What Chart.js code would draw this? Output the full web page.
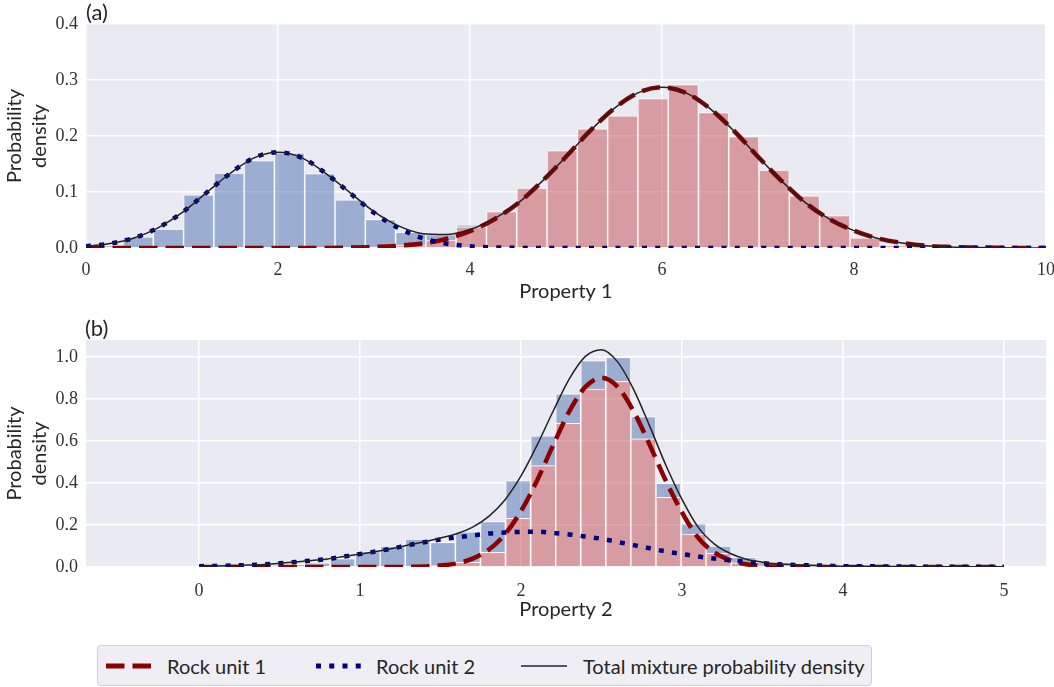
<!DOCTYPE html>
<html>
<head>
<meta charset="utf-8">
<script src="https://cdn.jsdelivr.net/npm/chart.js@4.4.1/dist/chart.umd.min.js"></script>
<style>
  body { margin: 0; background: #fff; width: 1054px; height: 687px; overflow: hidden; position: relative;
         font-family: Lato, "Open Sans", sans-serif; color: #262626; }
  canvas { position: absolute; left: 0; }
  #chartA { top: 0; }
  #chartB { top: 310px; }
  .panel { position: absolute; font-size: 22px; line-height: 1; }
  #legend { position: absolute; left: 97px; top: 645px; width: 775px; height: 41px; box-sizing: border-box;
            background: #eeeef4; border: 1px solid #cfcfd6; border-radius: 4px; }
  #legend span { position: absolute; top: 50%; transform: translateY(-50%); font-size: 20px; white-space: nowrap; }
  #legend svg { position: absolute; top: 15px; }
</style>
</head>
<body>
<canvas id="chartA" width="1054" height="310"></canvas>
<canvas id="chartB" width="1054" height="330"></canvas>
<div class="panel" style="left:86px; top:1px;">(a)</div>
<div class="panel" style="left:85px; top:317px;">(b)</div>
<div id="legend">
  <svg style="left:8px" width="45" height="10"><line x1="0" y1="5" x2="45" y2="5" stroke="#8b0000" stroke-width="5" stroke-dasharray="18.5 8"/></svg>
  <span style="left:69px">Rock unit 1</span>
  <svg style="left:218px" width="45" height="10"><line x1="0" y1="5" x2="45" y2="5" stroke="#000080" stroke-width="5" stroke-dasharray="5 8.25"/></svg>
  <span style="left:278px">Rock unit 2</span>
  <svg style="left:423px" width="46" height="10"><line x1="0" y1="5" x2="46" y2="5" stroke="#222" stroke-width="1.5"/></svg>
  <span style="left:485px">Total mixture probability density</span>
</div>
<script>
// ---- Panel (a): Property 1 ----
// stacked histogram, rock unit 1 at the bottom, rock unit 2 on top
const binCentres1 = [0.228, 0.543, 0.859, 1.174, 1.490, 1.805, 2.121, 2.436, 2.752, 3.067,
                     3.383, 3.698, 4.014, 4.329, 4.645, 4.960, 5.276, 5.591, 5.907, 6.222,
                     6.538, 6.853, 7.169, 7.484, 7.800, 8.115, 8.431, 8.746, 9.062, 9.377];
const histUnit1_p1 = [0, 0, 0, 0, 0, 0, 0, 0, 0, 0.002,
                      0.005, 0.014, 0.038, 0.065, 0.107, 0.174, 0.213, 0.236, 0.267, 0.292,
                      0.242, 0.199, 0.139, 0.093, 0.058, 0.018, 0.004, 0.003, 0.001, 0.001];
const histUnit2_p1 = [0.004, 0.020, 0.034, 0.095, 0.134, 0.156, 0.170, 0.133, 0.086, 0.049,
                      0.023, 0.010, 0.003, 0, 0, 0, 0, 0, 0, 0,
                      0, 0, 0, 0, 0, 0, 0, 0, 0, 0];

const curveX1 = [0, 0.25, 0.5, 0.75, 1, 1.25, 1.5, 1.75, 2, 2.25,
                 2.5, 2.75, 3, 3.25, 3.5, 3.75, 4, 4.25, 4.5, 4.75,
                 5, 5.25, 5.5, 5.75, 6, 6.25, 6.5, 6.75, 7, 7.25,
                 7.5, 7.75, 8, 8.25, 8.5, 8.75, 9, 9.25, 9.5, 9.75, 10];
const densUnit1_p1 = [0, 0, 0, 0, 0, 0, 0, 0, 0, 0,
                      0.0001, 0.0007, 0.0018, 0.004, 0.008, 0.016, 0.030, 0.051, 0.080, 0.119,
                      0.163, 0.209, 0.249, 0.277, 0.287, 0.277, 0.249, 0.209, 0.163, 0.119,
                      0.080, 0.051, 0.031, 0.017, 0.009, 0.004, 0.002, 0.001, 0.0004, 0.0001, 0];
const densUnit2_p1 = [0.003, 0.008, 0.018, 0.036, 0.063, 0.098, 0.133, 0.161, 0.171, 0.161,
                      0.133, 0.098, 0.063, 0.036, 0.018, 0.008, 0.003, 0.001, 0.0003, 0,
                      0, 0, 0, 0, 0, 0, 0, 0, 0, 0,
                      0, 0, 0, 0, 0, 0, 0, 0, 0, 0, 0];
const densTotal_p1 = [0.003, 0.008, 0.018, 0.036, 0.063, 0.098, 0.133, 0.161, 0.171, 0.161,
                      0.133, 0.099, 0.065, 0.040, 0.026, 0.024, 0.033, 0.052, 0.080, 0.119,
                      0.163, 0.209, 0.249, 0.277, 0.287, 0.277, 0.249, 0.209, 0.163, 0.119,
                      0.080, 0.051, 0.031, 0.017, 0.009, 0.004, 0.002, 0.001, 0.0004, 0.0001, 0];
const ticksX1 = [0, 2, 4, 6, 8, 10];
const ticksY1 = [0, 0.1, 0.2, 0.3, 0.4];

// ---- Panel (b): Property 2 ----
const binCentres2 = [0.113, 0.269, 0.425, 0.580, 0.736, 0.892, 1.048, 1.203, 1.359, 1.515,
                     1.670, 1.826, 1.982, 2.138, 2.293, 2.449, 2.605, 2.760, 2.916, 3.072,
                     3.227, 3.383, 3.539, 3.695, 3.850, 4.006, 4.162, 4.317, 4.473, 4.629];
const histUnit1_p2 = [0, 0, 0, 0, 0, 0, 0, 0, 0, 0.008,
                      0.022, 0.070, 0.232, 0.482, 0.684, 0.846, 0.883, 0.610, 0.332, 0.157,
                      0.065, 0.020, 0.010, 0.004, 0.002, 0.001, 0, 0, 0, 0];
const histUnit2_p2 = [0.002, 0.004, 0.008, 0.013, 0.020, 0.040, 0.073, 0.100, 0.133, 0.109,
                      0.145, 0.146, 0.179, 0.142, 0.140, 0.136, 0.114, 0.106, 0.066, 0.048,
                      0.035, 0.026, 0.012, 0.006, 0.004, 0.003, 0.002, 0.002, 0.001, 0.001];

const curveX2 = [0, 0.1, 0.2, 0.3, 0.4, 0.5, 0.6, 0.7, 0.8, 0.9,
                 1.0, 1.1, 1.2, 1.3, 1.4, 1.5, 1.6, 1.7, 1.8, 1.9,
                 2.0, 2.1, 2.2, 2.3, 2.4, 2.5, 2.6, 2.7, 2.8, 2.9,
                 3.0, 3.1, 3.2, 3.3, 3.4, 3.5, 3.6, 3.7, 3.8, 3.9,
                 4.0, 4.1, 4.2, 4.3, 4.4, 4.5, 4.6, 4.7, 4.8, 4.9, 5.0];
const densUnit1_p2 = [0, 0, 0, 0, 0, 0, 0, 0, 0, 0,
                      0, 0, 0, 0.001, 0.002, 0.007, 0.017, 0.040, 0.082, 0.155,
                      0.266, 0.412, 0.580, 0.740, 0.857, 0.900, 0.857, 0.740, 0.580, 0.410,
                      0.260, 0.140, 0.070, 0.032, 0.013, 0.005, 0.002, 0.001, 0, 0,
                      0, 0, 0, 0, 0, 0, 0, 0, 0, 0, 0];
const densUnit2_p2 = [0.004, 0.005, 0.007, 0.009, 0.012, 0.018, 0.024, 0.031, 0.038, 0.050,
                      0.062, 0.074, 0.088, 0.104, 0.118, 0.131, 0.141, 0.150, 0.159, 0.164,
                      0.167, 0.168, 0.162, 0.155, 0.145, 0.134, 0.119, 0.104, 0.089, 0.074,
                      0.062, 0.050, 0.040, 0.032, 0.024, 0.018, 0.013, 0.010, 0.008, 0.006,
                      0.004, 0.003, 0.003, 0.002, 0.002, 0.001, 0.001, 0.001, 0.001, 0.001, 0.001];
const densTotal_p2 = [0.004, 0.005, 0.007, 0.009, 0.012, 0.018, 0.024, 0.031, 0.038, 0.050,
                      0.062, 0.074, 0.088, 0.105, 0.120, 0.138, 0.158, 0.190, 0.241, 0.319,
                      0.433, 0.580, 0.742, 0.895, 1.002, 1.034, 0.976, 0.844, 0.669, 0.484,
                      0.322, 0.190, 0.110, 0.064, 0.037, 0.023, 0.015, 0.011, 0.008, 0.006,
                      0.004, 0.003, 0.003, 0.002, 0.002, 0.001, 0.001, 0.001, 0.001, 0.001, 0.001];
const ticksX2 = [0, 1, 2, 3, 4, 5];
const ticksY2 = [0, 0.2, 0.4, 0.6, 0.8, 1.0];

// ---- styling ----
const tickFont = { family: "'Liberation Serif', 'DejaVu Serif', serif", size: 18 };
const labelFont = { family: "Lato, 'Open Sans', sans-serif", size: 20, lineHeight: 1.2 };
const yTitleFont = { family: "Lato, 'Open Sans', sans-serif", size: 20, lineHeight: 1.25 };

const plotBackground = {
  id: "plotBackground",
  beforeDraw(chart) {
    const { ctx, chartArea: a } = chart;
    ctx.save();
    ctx.fillStyle = "#eaeaf2";
    ctx.fillRect(a.left, a.top, a.right - a.left, a.bottom - a.top);
    ctx.restore();
  }
};

function points(xs, ys) {
  return xs.map((x, i) => ({ x: x, y: ys[i] }));
}

function makePanel(canvasId, p) {
  const ctx = document.getElementById(canvasId).getContext("2d");
  return new Chart(ctx, {
    type: "bar",
    data: {
      datasets: [
        {
          type: "line", label: "Total mixture probability density", order: 0,
          data: points(p.curveX, p.total),
          borderColor: "#222", borderWidth: 1.5, pointRadius: 0, cubicInterpolationMode: "monotone"
        },
        {
          type: "line", label: "Rock unit 2", order: 1,
          data: points(p.curveX, p.dens2),
          borderColor: "#000080", borderWidth: 4.5, borderDash: [5, 8.25], pointRadius: 0,
          cubicInterpolationMode: "monotone"
        },
        {
          type: "line", label: "Rock unit 1", order: 2,
          data: points(p.curveX, p.dens1),
          borderColor: "#8b0000", borderWidth: 4.5, borderDash: [18.5, 8], pointRadius: 0,
          cubicInterpolationMode: "monotone"
        },
        {
          label: "Rock unit 1 histogram", order: 3, stack: "hist",
          data: points(p.bins, p.hist1),
          backgroundColor: "rgba(196, 78, 82, 0.5)", borderColor: "rgba(255, 255, 255, 0.8)",
          borderWidth: 1, barPercentage: 1, categoryPercentage: 1
        },
        {
          label: "Rock unit 2 histogram", order: 4, stack: "hist",
          data: points(p.bins, p.hist2),
          backgroundColor: "rgba(76, 114, 176, 0.5)", borderColor: "rgba(255, 255, 255, 0.8)",
          borderWidth: 1, barPercentage: 1, categoryPercentage: 1
        }
      ]
    },
    options: {
      responsive: false,
      animation: false,
      layout: { padding: { top: p.padTop, right: 8, left: 0, bottom: 0 } },
      plugins: { legend: { display: false }, tooltip: { enabled: false } },
      scales: {
        x: {
          type: "linear",
          offset: false,
          min: p.xMin,
          max: p.xMax,
          afterBuildTicks: s => { s.ticks = p.ticksX.map(v => ({ value: v })); },
          afterFit: s => { s.height = p.xAxisHeight; s.paddingLeft = 0; s.paddingRight = 0; },
          grid: { color: "#ffffff", lineWidth: 1.5, drawTicks: false, offset: false },
          border: { display: false },
          ticks: { padding: p.xTickPad, font: tickFont, color: "#333", callback: v => String(v) },
          title: { display: true, text: p.xTitle, font: labelFont, color: "#262626",
                   padding: { top: 0, bottom: p.xTitlePad } }
        },
        y: {
          min: 0,
          max: p.yMax,
          afterBuildTicks: s => { s.ticks = p.ticksY.map(v => ({ value: v })); },
          afterFit: s => { s.width = 86; s.paddingTop = 0; s.paddingBottom = 0; },
          grid: { color: "#ffffff", lineWidth: 1.5, drawTicks: false },
          border: { display: false },
          ticks: { padding: 8, font: tickFont, color: "#333", callback: v => v.toFixed(1) },
          title: { display: true, text: ["Probability", "density"], font: yTitleFont, color: "#262626",
                   padding: { top: 2.5, bottom: 0 } }
        }
      }
    },
    plugins: [plotBackground]
  });
}

makePanel("chartA", {
  bins: binCentres1, hist1: histUnit1_p1, hist2: histUnit2_p1,
  curveX: curveX1, dens1: densUnit1_p1, dens2: densUnit2_p1, total: densTotal_p1,
  ticksX: ticksX1, ticksY: ticksY1, xMin: 0, xMax: 10, yMax: 0.4,
  xTitle: "Property 1", padTop: 24, xAxisHeight: 62, xTickPad: 11, xTitlePad: 6
});

makePanel("chartB", {
  bins: binCentres2, hist1: histUnit1_p2, hist2: histUnit2_p2,
  curveX: curveX2, dens1: densUnit1_p2, dens2: densUnit2_p2, total: densTotal_p2,
  ticksX: ticksX2, ticksY: ticksY2, xMin: -0.702, xMax: 5.261, yMax: 1.08,
  xTitle: "Property 2", padTop: 30, xAxisHeight: 73, xTickPad: 13, xTitlePad: 18
});
</script>
</body>
</html>
